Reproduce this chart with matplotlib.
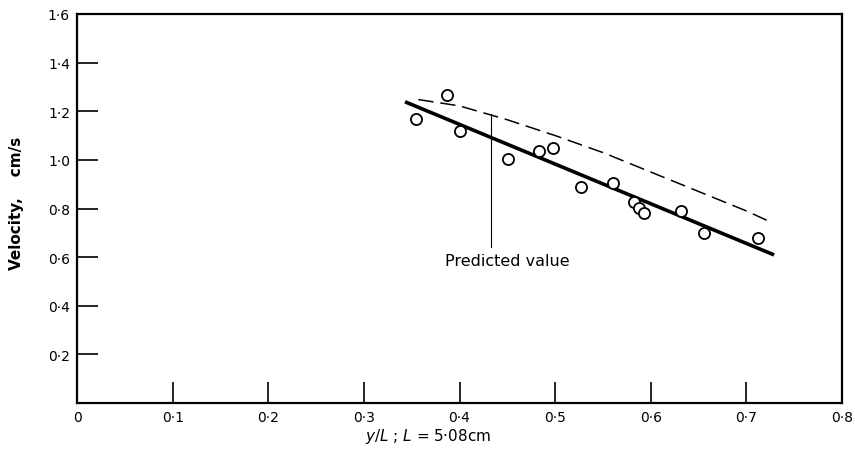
import numpy as np
import matplotlib
matplotlib.use("Agg")
from matplotlib import pyplot as plt

# measured points (y/L, velocity cm/s)
x_obs = [0.355, 0.387, 0.401, 0.451, 0.483, 0.498, 0.527, 0.561, 0.582,
         0.588, 0.593, 0.632, 0.656, 0.712]
v_obs = [1.169, 1.267, 1.119, 1.004, 1.037, 1.049, 0.889, 0.905, 0.827,
         0.802, 0.782, 0.790, 0.700, 0.679]

# solid fitted line
x_fit = [0.343, 0.729]
v_fit = [1.239, 0.609]

# dashed predicted curve
x_pred = [0.357, 0.40, 0.45, 0.50, 0.55, 0.60, 0.65, 0.70, 0.725]
v_pred = [1.248, 1.222, 1.165, 1.100, 1.030, 0.950, 0.870, 0.790, 0.745]

# pointer to the predicted curve
x_ptr = 0.433
v_ptr = [0.642, 1.19]

x_ticks = [0, 0.1, 0.2, 0.3, 0.4, 0.5, 0.6, 0.7, 0.8]
x_labels = ["0", "0·1", "0·2", "0·3", "0·4", "0·5", "0·6", "0·7", "0·8"]
y_ticks = [0, 0.2, 0.4, 0.6, 0.8, 1.0, 1.2, 1.4, 1.6]
y_labels = ["", "0·2", "0·4", "0·6", "0·8", "1·0", "1·2", "1·4", "1·6"]

fig = plt.figure(figsize=(8.55, 4.52), dpi=100)
ax = fig.add_axes([77 / 855, 48 / 452, 765 / 855, 389 / 452])

ax.plot(x_fit, v_fit, color="black", lw=2.6, solid_capstyle="butt")
ax.plot(x_pred, v_pred, color="black", lw=1.1, dashes=(10, 4.5))
ax.plot([x_ptr, x_ptr], v_ptr, color="black", lw=0.8)
ax.plot(x_obs, v_obs, linestyle="none", marker="o", markersize=8,
        markerfacecolor="white", markeredgecolor="black", markeredgewidth=1.3)

ax.text(0.385, 0.588, "Predicted value", fontsize=11.5, va="center", ha="left")

ax.set_xlim(0, 0.8)
ax.set_ylim(0, 1.6)
ax.set_xticks(x_ticks)
ax.set_xticklabels(x_labels)
ax.set_yticks(y_ticks)
ax.set_yticklabels(y_labels)
ax.tick_params(direction="in", length=15, width=1.2, labelsize=10, pad=5)
for s in ax.spines.values():
    s.set_linewidth(1.6)

fig.text(428 / 855, 1 - 437 / 452, "$y$/$L$ ; $L$ = 5·08cm", fontsize=11,
         ha="center", va="center")
fig.text(17 / 855, 1 - 203 / 452, "Velocity,    cm/s", fontsize=11,
         fontweight="bold", rotation=90, ha="center", va="center")

fig.savefig("out.png", dpi=100)
